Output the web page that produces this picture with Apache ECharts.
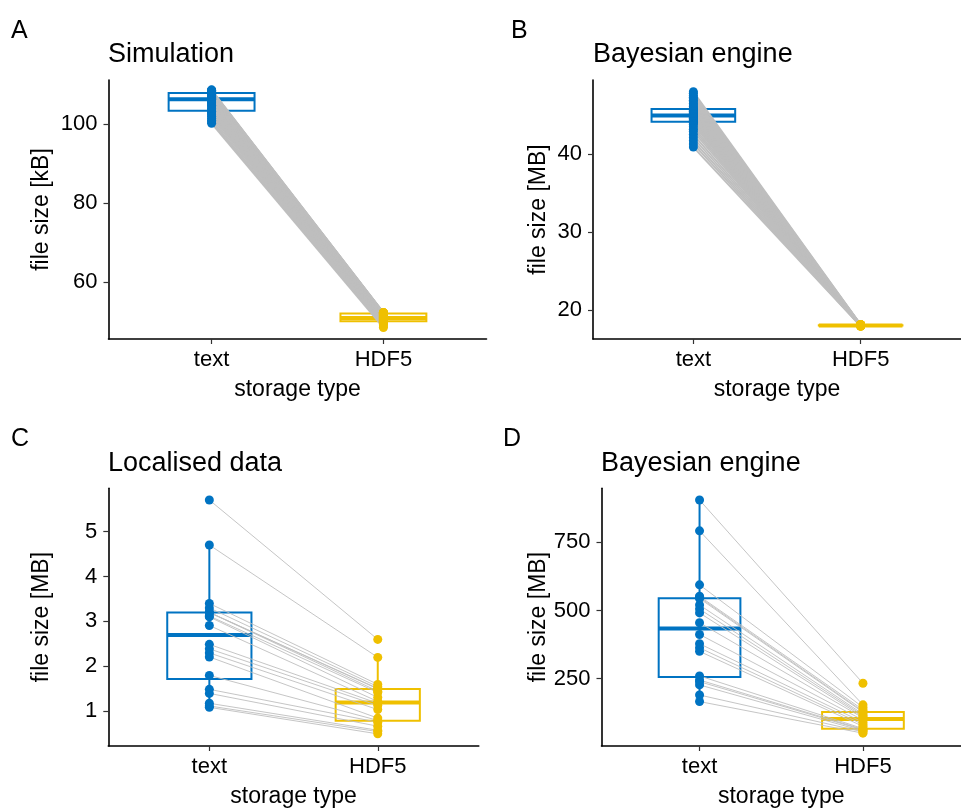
<!DOCTYPE html>
<html><head><meta charset="utf-8">
<script src="https://cdn.jsdelivr.net/npm/echarts@6/dist/echarts.min.js"></script>
<style>html,body{margin:0;padding:0;background:#fff}#c{width:961px;height:809px}</style>
</head><body><div id="c"></div>
<script>
const categories = ['text', 'HDF5'];
const panelLetters = ['A', 'B', 'C', 'D'];
const panelTitles = ['Simulation', 'Bayesian engine', 'Localised data', 'Bayesian engine'];
const yTitles = ['file size [kB]', 'file size [MB]', 'file size [MB]', 'file size [MB]'];
const xTitle = 'storage type';

// Panel A – Simulation (kB)
const simText = [100.2,100.6,101.0,101.5,102.0,102.4,102.8,103.1,103.3,103.6,104.0,104.4,104.8,105.1,105.4,105.7,105.9,106.1,106.2,106.3,106.4,106.6,106.8,107.0,107.2,107.4,107.5,107.7,107.8,107.9,108.0,108.0,108.1,108.2,108.3,108.4,108.5,108.5,108.6,108.7];
const simHdf5 = [48.4,48.8,49.2,49.5,49.7,49.9,50.0,50.0,50.1,50.2,50.3,50.4,50.5,50.6,50.6,50.7,50.7,50.8,50.8,50.8,50.9,51.0,51.1,51.2,51.3,51.4,51.5,51.6,51.7,51.8,51.9,52.0,52.0,52.0,52.1,52.1,52.1,52.2,52.2,52.2];
const simBoxText = [100.2, 103.4, 106.3, 107.9, 108.7];
const simBoxHdf5 = [48.4, 50.0, 50.8, 52.0, 52.2];
const simTicks = [60, 80, 100];

// Panel B – Bayesian engine (MB)
const bayesText = [40.9,41.3,41.7,42.1,42.5,42.9,43.2,43.5,43.8,44.0,44.1,44.2,44.3,44.4,44.5,44.6,44.7,44.8,44.9,45.0,45.0,45.1,45.2,45.3,45.4,45.5,45.6,45.7,45.8,45.9,46.1,46.3,46.5,46.7,46.9,47.1,47.3,47.5,47.8,48.0];
const bayesHdf5 = [17.94,17.96,17.97,17.98,17.99,18.00,18.00,18.01,18.01,18.02,18.02,18.02,18.03,18.03,18.03,18.03,18.04,18.04,18.04,18.04,18.05,18.05,18.05,18.05,18.06,18.06,18.06,18.07,18.07,18.08,18.08,18.09,18.09,18.10,18.10,18.11,18.12,18.13,18.14,18.16];
const bayesBoxText = [40.9, 44.14, 44.96, 45.77, 48.0];
const bayesBoxHdf5 = [17.94, 18.02, 18.04, 18.07, 18.16];
const bayesTicks = [20, 30, 40];

// Panel C – Localised data (MB)
const locText = [1.09,1.12,1.18,1.40,1.49,1.80,2.21,2.30,2.39,2.49,2.91,3.10,3.12,3.20,3.20,3.20,3.30,3.40,4.70,5.70];
const locHdf5 = [0.50,0.55,0.58,0.67,0.76,0.80,0.85,1.04,1.13,1.18,1.22,1.31,1.42,1.45,1.50,1.51,1.55,1.60,2.20,2.60];
const locBoxText = [1.09, 1.72, 2.70, 3.20, 4.70];
const locBoxHdf5 = [0.50, 0.79, 1.20, 1.50, 2.20];
const locTicks = [1, 2, 3, 4, 5];

// Panel D – Bayesian engine (MB)
const bayes2Text = [166,190,227,239,245,260,350,363,378,412,455,491,505,520,544,548,552,594,792,905];
const bayes2Hdf5 = [50,55,58,62,64,67,75,82,90,98,106,110,115,120,127,130,136,145,154,233];
const bayes2BoxText = [166, 256, 434, 545, 905];
const bayes2BoxHdf5 = [50, 66, 102, 128, 154];
const bayes2Ticks = [250, 500, 750];

const COLORS = ['#0073C2', '#EFC000'];
const LINE_GRAY = '#BEBEBE';
const FONT = '"Liberation Sans", Arial, sans-serif';

const panels = [
  {text: simText, hdf: simHdf5, boxT: simBoxText, boxH: simBoxHdf5, ticks: simTicks, ymin: 45.5, ymax: 111.2,
   grid: {left: 108.5, top: 80, width: 378, height: 259}, yGap: 55, lw: 1.8, letter: [11, 19], title: [108, 41]},
  {text: bayesText, hdf: bayesHdf5, boxT: bayesBoxText, boxH: bayesBoxHdf5, ticks: bayesTicks, ymin: 16.3, ymax: 49.5,
   grid: {left: 593, top: 80, width: 378.5, height: 259}, yGap: 43, lw: 1.8, letter: [511, 19], title: [593, 41]},
  {text: locText, hdf: locHdf5, boxT: locBoxText, boxH: locBoxHdf5, ticks: locTicks, ymin: 0.23, ymax: 5.96,
   grid: {left: 108.3, top: 488.3, width: 370.5, height: 260}, yGap: 55, lw: 0.9, letter: [11, 427], title: [108, 450]},
  {text: bayes2Text, hdf: bayes2Hdf5, boxT: bayes2BoxText, boxH: bayes2BoxHdf5, ticks: bayes2Ticks, ymin: 3, ymax: 948,
   grid: {left: 601.5, top: 488.3, width: 369.5, height: 260}, yGap: 51, lw: 0.9, letter: [503, 427], title: [601, 450]}
];

function boxRender(params, api) {
  const x = api.value(0);
  const lo = api.value(1), q1 = api.value(2), md = api.value(3), q3 = api.value(4), hi = api.value(5);
  const color = COLORS[params.dataIndex];
  const tl = api.coord([x - 0.25, q3]);
  const br = api.coord([x + 0.25, q1]);
  const ml = api.coord([x - 0.25, md]);
  const mr = api.coord([x + 0.25, md]);
  const pHi = api.coord([x, hi]), pQ3 = api.coord([x, q3]), pQ1 = api.coord([x, q1]), pLo = api.coord([x, lo]);
  return {type: 'group', children: [
    {type: 'line', shape: {x1: pHi[0], y1: pHi[1], x2: pQ3[0], y2: pQ3[1]}, style: {stroke: color, lineWidth: 2}},
    {type: 'line', shape: {x1: pQ1[0], y1: pQ1[1], x2: pLo[0], y2: pLo[1]}, style: {stroke: color, lineWidth: 2}},
    {type: 'rect', shape: {x: tl[0], y: tl[1], width: br[0] - tl[0], height: br[1] - tl[1]}, style: {fill: '#fff', stroke: color, lineWidth: 2}},
    {type: 'line', shape: {x1: ml[0], y1: ml[1], x2: mr[0], y2: mr[1]}, style: {stroke: color, lineWidth: 4}}
  ]};
}

function makePairRender(lw) {
  return function (params, api) {
    const a = api.coord([api.value(0), api.value(1)]);
    const b = api.coord([api.value(2), api.value(3)]);
    return {type: 'line', shape: {x1: a[0], y1: a[1], x2: b[0], y2: b[1]}, style: {stroke: LINE_GRAY, lineWidth: lw}};
  };
}

const option = {animation: false, backgroundColor: '#fff', grid: [], xAxis: [], yAxis: [], series: [], title: []};

panels.forEach((p, i) => {
  option.grid.push(Object.assign({containLabel: false}, p.grid));
  option.xAxis.push({
    type: 'value', gridIndex: i, min: 0.4, max: 2.6,
    name: xTitle, nameLocation: 'middle', nameGap: 39,
    nameTextStyle: {fontSize: 23, color: '#000', fontFamily: FONT},
    axisLine: {show: true, onZero: false, lineStyle: {color: '#000', width: 1.6}},
    axisTick: {show: true, length: 5, customValues: [1, 2], lineStyle: {color: '#333', width: 1.2}},
    axisLabel: {show: true, customValues: [1, 2], margin: 10, fontSize: 22, color: '#000', fontFamily: FONT,
      formatter: v => categories[Math.round(v) - 1]},
    splitLine: {show: false}
  });
  option.yAxis.push({
    type: 'value', gridIndex: i, min: p.ymin, max: p.ymax,
    name: yTitles[i], nameLocation: 'middle', nameGap: p.yGap,
    nameTextStyle: {fontSize: 23, color: '#000', fontFamily: FONT},
    axisLine: {show: true, onZero: false, lineStyle: {color: '#000', width: 1.6}},
    axisTick: {show: true, length: 5, customValues: p.ticks, lineStyle: {color: '#333', width: 1.2}},
    axisLabel: {show: true, customValues: p.ticks, margin: 11, fontSize: 22, color: '#000', fontFamily: FONT,
      padding: [3, 0, 0, 0]},
    splitLine: {show: false}
  });
  option.series.push({
    type: 'custom', xAxisIndex: i, yAxisIndex: i, z: 1,
    dimensions: ['x', 'lo', 'q1', 'md', 'q3', 'hi'],
    encode: {x: 0, y: [1, 2, 3, 4, 5]},
    renderItem: boxRender,
    data: [[1].concat(p.boxT), [2].concat(p.boxH)]
  });
  option.series.push({
    type: 'custom', xAxisIndex: i, yAxisIndex: i, z: 2,
    encode: {x: [0, 2], y: [1, 3]},
    renderItem: makePairRender(p.lw),
    data: p.text.map((t, k) => [1, t, 2, p.hdf[k]])
  });
  option.series.push({
    type: 'scatter', xAxisIndex: i, yAxisIndex: i, z: 3, symbolSize: 9,
    itemStyle: {color: COLORS[0], opacity: 1},
    data: p.text.map(v => [1, v])
  });
  option.series.push({
    type: 'scatter', xAxisIndex: i, yAxisIndex: i, z: 3, symbolSize: 9,
    itemStyle: {color: COLORS[1], opacity: 1},
    data: p.hdf.map(v => [2, v])
  });
  option.title.push({text: panelLetters[i], left: p.letter[0], top: p.letter[1], padding: 0,
    textStyle: {fontSize: 25, fontWeight: 'normal', color: '#000', fontFamily: FONT}});
  option.title.push({text: panelTitles[i], left: p.title[0], top: p.title[1], padding: 0,
    textStyle: {fontSize: 27, fontWeight: 'normal', color: '#000', fontFamily: FONT}});
});

const chart = echarts.init(document.getElementById('c'), null, {renderer: 'canvas'});
chart.setOption(option);
</script>
</body></html>
